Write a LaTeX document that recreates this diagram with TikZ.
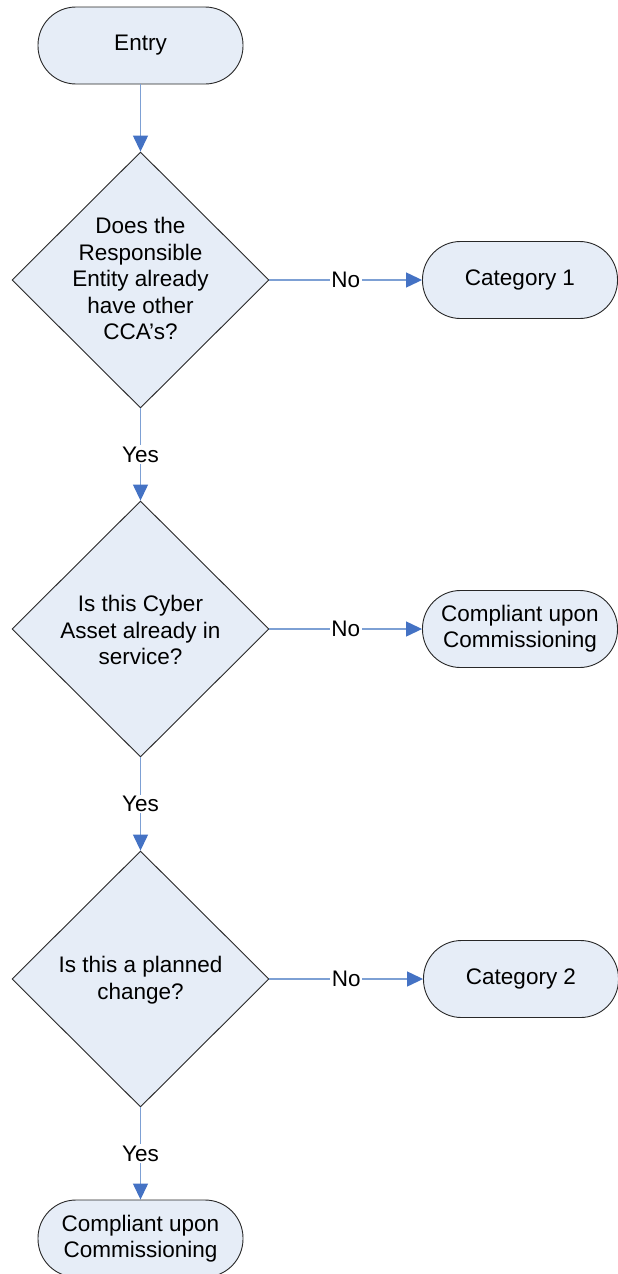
\documentclass[tikz,border=0pt]{standalone}
\usepackage{fontspec}
\setmainfont{Liberation Sans}
\usetikzlibrary{shapes.geometric,arrows.meta}
\definecolor{shapefill}{RGB}{230,237,247}
\definecolor{linkblue}{RGB}{125,160,212}
\definecolor{tipblue}{RGB}{68,114,196}
\definecolor{edgegray}{RGB}{40,40,40}
\tikzset{
  term/.style={draw=edgegray, line width=0.9pt, fill=shapefill, rectangle, rounded corners=38pt,
    minimum width=205pt, minimum height=77pt, inner sep=0pt, align=center,
    font=\fontsize{22.5}{26}\selectfont},
  termr/.style={term, minimum width=195pt},
  decision/.style={draw=edgegray, line width=0.9pt, fill=shapefill, diamond,
    minimum width=257pt, minimum height=256pt, inner sep=0pt},
  dtext/.style={align=center, inner sep=0pt, font=\fontsize{22.5}{26.5}\selectfont},
  link/.style={draw=linkblue, line width=1.3pt,
    -{Triangle[length=16pt,width=15pt,color=tipblue]}},
  lbl/.style={fill=white, inner sep=1.5pt, font=\fontsize{22.5}{26}\selectfont}
}
\begin{document}
\begin{tikzpicture}[x=1pt,y=-1pt]
\useasboundingbox (0,0) rectangle (618,1274);
\clip (0,0) rectangle (618,1274);
\fill[white] (0,0) rectangle (618,1274);

\node[term] (entry) at (140.5,45.5) {\raisebox{-1.5pt}{Entry}};

\node[decision] (d1) at (140.5,280) {};
\node[dtext] (t1) at (140.5,278.5) {Does the\\Responsible\\Entity already\\have other\\CCA’s?};
\node[termr] (c1) at (520,280) {\raisebox{-1.5pt}{Category 1}};

\node[decision] (d2) at (140.5,629) {};
\node[dtext] (t2) at (140.5,630) {Is this Cyber\\Asset already in\\service?};
\node[termr] (cc1) at (520,629) {Compliant upon\\Commissioning};

\node[decision] (d3) at (140.5,979) {};
\node[dtext] (t3) at (140.5,980) {Is this a planned\\change?};
\node[termr] (c2) at (521,979) {\raisebox{-1.5pt}{Category 2}};

\node[term] (cc2) at (140.5,1238.5) {Compliant upon\\Commissioning};

\draw[link] (entry.south) -- (d1.north);
\draw[link] (d1.east) -- node[lbl] (n1) {No} (c1.west);
\draw[link] (d1.south) -- node[lbl] (y1) {Yes} (d2.north);
\draw[link] (d2.east) -- node[lbl] (n2) {No} (cc1.west);
\draw[link] (d2.south) -- node[lbl] (y2) {Yes} (d3.north);
\draw[link] (d3.east) -- node[lbl] (n3) {No} (c2.west);
\draw[link] (d3.south) -- node[lbl] (y3) {Yes} (cc2.north);
\end{tikzpicture}
\end{document}
